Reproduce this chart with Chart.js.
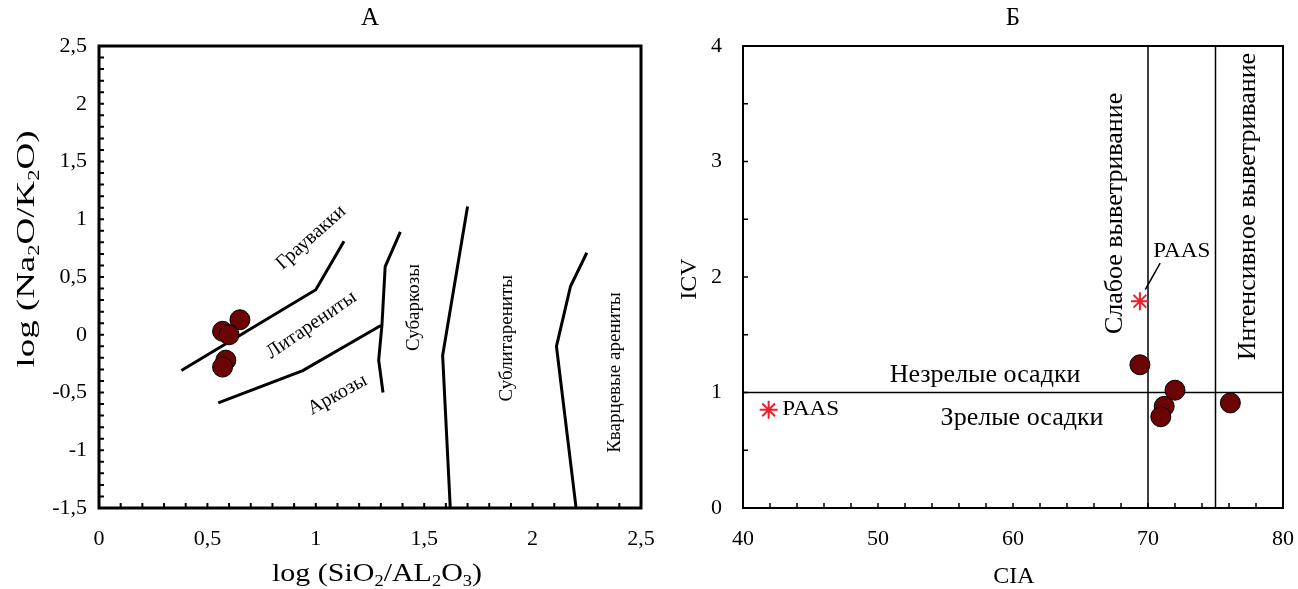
<!DOCTYPE html>
<html>
<head>
<meta charset="utf-8">
<script src="https://cdn.jsdelivr.net/npm/chart.js@4.4.1/dist/chart.umd.min.js"></script>
<style>
  body { margin: 0; background: #fff; width: 1298px; height: 589px; position: relative; overflow: hidden; }
  canvas { position: absolute; top: 0; }
  #chartA { left: 0; }
  #chartB { left: 680px; }
</style>
</head>
<body>
<canvas id="chartA" width="680" height="589"></canvas>
<canvas id="chartB" width="640" height="589"></canvas>
<script>
const FONT = '"Liberation Serif", "Times New Roman", serif';

// --- A: log(SiO2/Al2O3) vs log(Na2O/K2O) ---
const samplesA = [
  { x: 0.57, y: 0.03 },
  { x: 0.65, y: 0.13 },
  { x: 0.60, y: 0.00 },
  { x: 0.585, y: -0.22 },
  { x: 0.57, y: -0.28 }
];
// field boundaries
const lineGreywacke = [{ x: 0.38, y: -0.31 }, { x: 1.00, y: 0.39 }, { x: 1.13, y: 0.81 }];
const lineArkose = [{ x: 0.55, y: -0.59 }, { x: 0.94, y: -0.31 }, { x: 1.30, y: 0.08 }];
const lineSubarkose = [{ x: 1.39, y: 0.89 }, { x: 1.32, y: 0.59 }, { x: 1.305, y: 0.08 }, { x: 1.29, y: -0.22 }, { x: 1.31, y: -0.50 }];
const lineSublith = [{ x: 1.70, y: 1.11 }, { x: 1.585, y: -0.18 }, { x: 1.62, y: -1.49 }];
const lineQuartz = [{ x: 2.25, y: 0.71 }, { x: 2.175, y: 0.42 }, { x: 2.11, y: -0.10 }, { x: 2.20, y: -1.49 }];
const labelsA = [
  { text: 'Граувакки', x: 0.978, y: 0.842, rot: -42, size: 20 },
  { text: 'Литарениты', x: 0.98, y: 0.084, rot: -34.5, size: 20 },
  { text: 'Аркозы', x: 1.10, y: -0.52, rot: -29, size: 20 },
  { text: 'Субаркозы', x: 1.451, y: 0.236, rot: -90, size: 19 },
  { text: 'Сублитарениты', x: 1.882, y: -0.03, rot: -90, size: 19 },
  { text: 'Кварцевые арениты', x: 2.38, y: -0.327, rot: -90, size: 19 }
];

// --- Б: CIA vs ICV ---
const samplesB = [
  { x: 69.4, y: 1.24 },
  { x: 72.0, y: 1.02 },
  { x: 71.2, y: 0.88 },
  { x: 70.95, y: 0.79 },
  { x: 76.1, y: 0.91 }
];
const paas = [{ x: 69.4, y: 1.79 }, { x: 41.9, y: 0.85 }];
const paasLeader = [{ x: 70.9, y: 2.12 }, { x: 69.8, y: 1.89 }];
const lineICV1 = [{ x: 40, y: 1 }, { x: 80, y: 1 }];
const lineCIA70 = [{ x: 70, y: 0 }, { x: 70, y: 4 }];
const lineCIA75 = [{ x: 75, y: 0 }, { x: 75, y: 4 }];
const labelsB = [
  { text: 'Незрелые осадки', x: 57.93, y: 1.154, rot: 0, size: 26 },
  { text: 'Зрелые осадки', x: 60.67, y: 0.78, rot: 0, size: 26 },
  { text: 'Слабое выветривание', x: 67.6, y: 2.55, rot: -90, size: 26 },
  { text: 'Интенсивное выветривание', x: 77.45, y: 2.61, rot: -90, size: 26 },
  { text: 'PAAS', x: 72.5, y: 2.22, rot: 0, size: 20, len: 57 },
  { text: 'PAAS', x: 42.9, y: 0.85, rot: 0, size: 20, len: 57, align: 'left' }
];

const comma = v => String(Math.round(v * 10) / 10).replace('.', ',');
const isMult = (v, m) => Math.abs(v / m - Math.round(v / m)) < 1e-6;

// text made of [string, isSubscript] parts, optionally stretched to a length
function drawRich(ctx, parts, x, y, size, rot, len, align) {
  ctx.save();
  ctx.translate(x, y);
  ctx.rotate(rot * Math.PI / 180);
  const big = size + 'px ' + FONT, small = Math.round(size * 0.62) + 'px ' + FONT;
  let w = 0;
  parts.forEach(p => { ctx.font = p[1] ? small : big; w += ctx.measureText(p[0]).width; });
  if (len) { ctx.scale(len / w, 1); }
  let cx = align === 'left' ? 0 : -w / 2;
  ctx.textBaseline = 'middle';
  ctx.textAlign = 'left';
  ctx.fillStyle = '#000';
  parts.forEach(p => {
    ctx.font = p[1] ? small : big;
    ctx.fillText(p[0], cx, p[1] ? size * 0.3 : 0);
    cx += ctx.measureText(p[0]).width;
  });
  ctx.restore();
}

const decor = {
  id: 'decor',
  afterDraw(chart, args, o) {
    const ctx = chart.ctx, a = chart.chartArea, sx = chart.scales.x, sy = chart.scales.y;
    ctx.save();
    ctx.strokeStyle = '#000';
    ctx.lineWidth = o.tickWidth;
    ctx.beginPath();
    sx.ticks.forEach(t => {
      const px = sx.getPixelForValue(t.value);
      ctx.moveTo(px, a.bottom); ctx.lineTo(px, a.bottom - o.tickLen);
    });
    sy.ticks.forEach(t => {
      const py = sy.getPixelForValue(t.value);
      ctx.moveTo(a.left, py); ctx.lineTo(a.left + o.tickLen, py);
    });
    ctx.stroke();
    ctx.lineWidth = o.frameWidth;
    ctx.strokeRect(a.left, a.top, a.right - a.left, a.bottom - a.top);
    ctx.restore();

    drawRich(ctx, [[o.title, 0]], (a.left + a.right) / 2, 18, 25, 0);
    o.labels.forEach(l => {
      drawRich(ctx, [[l.text, 0]], sx.getPixelForValue(l.x), sy.getPixelForValue(l.y), l.size, l.rot, l.len, l.align);
    });
    const t = o.xTitle, u = o.yTitle;
    drawRich(ctx, t.parts, t.x, t.y, t.size, 0, t.len);
    drawRich(ctx, u.parts, u.x, u.y, u.size, -90, u.len);
  }
};

function line(data, width) {
  return { type: 'line', data, borderColor: '#000', borderWidth: width, pointRadius: 0, fill: false, tension: 0 };
}
function dots(data, r) {
  return { data, pointRadius: r, pointHoverRadius: r, backgroundColor: '#6b0404', borderColor: '#000', borderWidth: 1 };
}

function axes(xmin, xmax, xstep, xlab, ymin, ymax, ystep, ylab, yWidth, yPad) {
  const tickFont = { family: FONT, size: 22 };
  return {
    x: {
      type: 'linear', min: xmin, max: xmax,
      grid: { display: false, drawTicks: false },
      border: { display: false },
      ticks: { stepSize: xstep, autoSkip: false, maxRotation: 0, minRotation: 0, padding: 18, color: '#000', font: tickFont, callback: xlab },
      afterFit: s => { s.height = 81; }
    },
    y: {
      type: 'linear', min: ymin, max: ymax,
      grid: { display: false, drawTicks: false },
      border: { display: false },
      ticks: { stepSize: ystep, autoSkip: false, padding: yPad, color: '#000', font: tickFont, callback: ylab },
      afterFit: s => { s.width = yWidth; }
    }
  };
}

new Chart(document.getElementById('chartA'), {
  type: 'scatter',
  data: {
    datasets: [
      dots(samplesA, 10),
      line(lineGreywacke, 3),
      line(lineArkose, 3),
      line(lineSubarkose, 3),
      line(lineSublith, 3),
      line(lineQuartz, 3)
    ]
  },
  options: {
    responsive: false,
    animation: false,
    layout: { padding: { top: 46, right: 39, left: 0, bottom: 0 } },
    plugins: {
      legend: { display: false }, tooltip: { enabled: false },
      decor: {
        title: 'А', tickLen: 5, tickWidth: 2, frameWidth: 3,
        labels: labelsA,
        xTitle: { parts: [['log (SiO', 0], ['2', 1], ['/AL', 0], ['2', 1], ['O', 0], ['3', 1], [')', 0]], x: 377, y: 574, size: 26, len: 210 },
        yTitle: { parts: [['log (Na', 0], ['2', 1], ['O/K', 0], ['2', 1], ['O)', 0]], x: 27, y: 249, size: 26, len: 237 }
      }
    },
    scales: axes(0, 2.5, 0.1, v => isMult(v, 0.5) ? comma(v) : '',
                 -1.5, 2.5, 0.1, v => isMult(v, 0.5) ? comma(v) : '', 99, 12)
  },
  plugins: [decor]
});

new Chart(document.getElementById('chartB'), {
  type: 'scatter',
  data: {
    datasets: [
      dots(samplesB, 10),
      { data: paas, pointStyle: 'star', pointRadius: 9, borderColor: '#e8202a', borderWidth: 2, backgroundColor: '#e8202a' },
      line(paasLeader, 1.5),
      line(lineICV1, 1.5),
      line(lineCIA70, 1.5),
      line(lineCIA75, 1.5)
    ]
  },
  options: {
    responsive: false,
    animation: false,
    layout: { padding: { top: 46, right: 37, left: 0, bottom: 0 } },
    plugins: {
      legend: { display: false }, tooltip: { enabled: false },
      decor: {
        title: 'Б', tickLen: 5, tickWidth: 1.5, frameWidth: 2,
        labels: labelsB,
        xTitle: { parts: [['CIA', 0]], x: 334, y: 577, size: 24 },
        yTitle: { parts: [['ICV', 0]], x: 10, y: 279, size: 24 }
      }
    },
    scales: axes(40, 80, 2, v => isMult(v, 10) ? String(v) : '',
                 0, 4, 0.5, v => isMult(v, 1) ? String(v) : '', 63, 21)
  },
  plugins: [decor]
});
</script>
</body>
</html>
